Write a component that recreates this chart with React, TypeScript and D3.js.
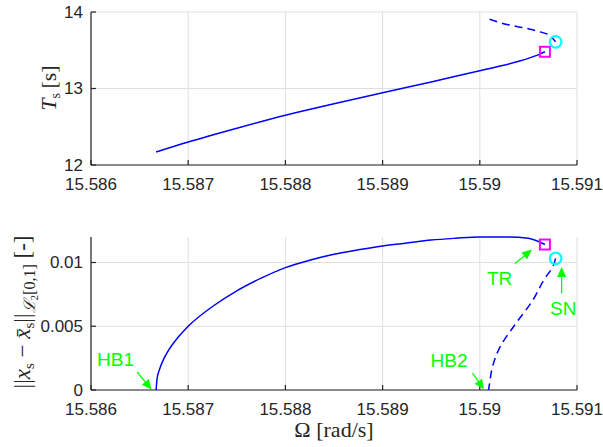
import React from "react";
import * as d3 from "d3";

// ---------- data ----------
const OMEGA_TICKS = [15.586, 15.587, 15.588, 15.589, 15.59, 15.591];
const T_TICKS = [12, 13, 14];
const AMP_TICKS = [0, 0.005, 0.01];

// Period of the periodic solution (top panel)
const T_STABLE_OMEGA = [15.58667, 15.587, 15.5875, 15.588, 15.5885, 15.589, 15.5895, 15.59, 15.5902, 15.5904, 15.5906, 15.59067];
const T_STABLE = [12.17, 12.3, 12.48, 12.65, 12.8, 12.945, 13.085, 13.233, 13.29, 13.355, 13.44, 13.48];
const T_UNSTABLE_OMEGA = [15.59078, 15.59072, 15.59062, 15.5905, 15.59038, 15.59021, 15.5901];
const T_UNSTABLE = [13.61, 13.69, 13.74, 13.78, 13.81, 13.86, 13.905];

// Amplitude norm (bottom panel)
const A_STABLE_OMEGA = [15.58667, 15.58668, 15.5867, 15.58675, 15.5868, 15.5869, 15.587, 15.58725, 15.5875, 15.58775, 15.588, 15.58825, 15.5885, 15.58875, 15.589, 15.58925, 15.5895, 15.58975, 15.59, 15.5903, 15.5905, 15.59067];
const A_STABLE = [0, 0.0009, 0.0015, 0.00246, 0.00314, 0.00417, 0.005, 0.00655, 0.00778, 0.00877, 0.0096, 0.01018, 0.01065, 0.011, 0.0113, 0.01153, 0.01176, 0.0119, 0.012, 0.012, 0.0119, 0.01141];
const A_UNSTABLE_OMEGA = [15.59078, 15.59074, 15.59068, 15.59055, 15.59035, 15.59021, 15.59013, 15.5901, 15.59009];
const A_UNSTABLE = [0.01032, 0.0095, 0.00888, 0.0071, 0.005, 0.0034, 0.0018, 0.0005, 0];

// Bifurcation points
const TR_POINT = { omega: 15.59067, T: 13.48, amp: 0.01141 };
const SN_POINT = { omega: 15.59078, T: 13.61, amp: 0.01032 };
const HB1_POINT = { omega: 15.58667, amp: 0 };
const HB2_POINT = { omega: 15.59009, amp: 0 };

// ---------- layout ----------
const W = 603;
const H = 447;
const X0 = 91;
const X1 = 577;
const TOP = { y0: 12, y1: 165 };
const BOT = { y0: 237, y1: 390 };

const AXIS_COLOR = "#262626";
const GRID_COLOR = "#dfdfdf";
const LINE_COLOR = "#0000ff";
const GREEN = "#00ff00";
const TICK_FONT = "Liberation Sans, Arial, sans-serif";
const SERIF = "Liberation Serif, Times New Roman, serif";

const fmt = (v: number) => String(+v.toFixed(4));

function Arrow({ x1, y1, x2, y2 }: { x1: number; y1: number; x2: number; y2: number }) {
  const dx = x2 - x1;
  const dy = y2 - y1;
  const len = Math.hypot(dx, dy);
  const ux = dx / len;
  const uy = dy / len;
  const hl = 10;
  const hw = 4.5;
  const bx = x2 - ux * hl;
  const by = y2 - uy * hl;
  const pts = [
    [x2, y2],
    [bx - uy * hw, by + ux * hw],
    [bx + uy * hw, by - ux * hw],
  ];
  return (
    <g>
      <line x1={x1} y1={y1} x2={bx} y2={by} stroke={GREEN} strokeWidth={1.3} />
      <polygon points={pts.map((p) => p.join(",")).join(" ")} fill={GREEN} />
    </g>
  );
}

export default function App() {
  const x = d3.scaleLinear().domain([15.586, 15.591]).range([X0, X1]);
  const yT = d3.scaleLinear().domain([12, 14]).range([TOP.y1, TOP.y0]);
  const yA = d3.scaleLinear().domain([0, 0.012]).range([BOT.y1, BOT.y0]);

  const zip = (a: number[], b: number[]) => a.map((v, i) => [v, b[i]] as [number, number]);
  const byX = (pts: [number, number][]) => pts.slice().sort((p, q) => p[0] - q[0]);

  const lineTx = d3
    .line<[number, number]>()
    .x((d) => x(d[0]))
    .y((d) => yT(d[1]))
    .curve(d3.curveMonotoneX);
  const lineAx = d3
    .line<[number, number]>()
    .x((d) => x(d[0]))
    .y((d) => yA(d[1]))
    .curve(d3.curveMonotoneX);
  const lineAy = d3
    .line<[number, number]>()
    .x((d) => x(d[0]))
    .y((d) => yA(d[1]))
    .curve(d3.curveMonotoneY);

  const panel = (y: d3.ScaleLinear<number, number>, yTicks: number[], y0: number, y1: number) => (
    <g>
      {OMEGA_TICKS.map((t) => (
        <line key={"gx" + t} x1={x(t)} x2={x(t)} y1={y0} y2={y1} stroke={GRID_COLOR} strokeWidth={1} />
      ))}
      {yTicks.map((t) => (
        <line key={"gy" + t} x1={X0} x2={X1} y1={y(t)} y2={y(t)} stroke={GRID_COLOR} strokeWidth={1} />
      ))}
      <line x1={X0} x2={X0} y1={y0} y2={y1} stroke={AXIS_COLOR} strokeWidth={1.2} />
      <line x1={X0} x2={X1} y1={y1} y2={y1} stroke={AXIS_COLOR} strokeWidth={1.2} />
      {OMEGA_TICKS.map((t) => (
        <g key={"tx" + t}>
          <line x1={x(t)} x2={x(t)} y1={y1} y2={y1 - 5} stroke={AXIS_COLOR} strokeWidth={1.2} />
          <text x={x(t)} y={y1 + 25} textAnchor="middle" fontFamily={TICK_FONT} fontSize={17} fill={AXIS_COLOR}>
            {fmt(t)}
          </text>
        </g>
      ))}
      {yTicks.map((t) => (
        <g key={"ty" + t}>
          <line x1={X0} x2={X0 + 5} y1={y(t)} y2={y(t)} stroke={AXIS_COLOR} strokeWidth={1.2} />
          <text x={X0 - 8} y={y(t)} dy="0.35em" textAnchor="end" fontFamily={TICK_FONT} fontSize={17} fill={AXIS_COLOR}>
            {fmt(t)}
          </text>
        </g>
      ))}
    </g>
  );

  const trT = { x: x(TR_POINT.omega), y: yT(TR_POINT.T) };
  const snT = { x: x(SN_POINT.omega), y: yT(SN_POINT.T) };
  const trA = { x: x(TR_POINT.omega), y: yA(TR_POINT.amp) };
  const snA = { x: x(SN_POINT.omega), y: yA(SN_POINT.amp) };
  const hb1 = { x: x(HB1_POINT.omega), y: yA(HB1_POINT.amp) };
  const hb2 = { x: x(HB2_POINT.omega), y: yA(HB2_POINT.amp) };

  const square = (p: { x: number; y: number }) => (
    <rect x={p.x - 5} y={p.y - 5} width={10} height={10} fill="none" stroke="#ff00ff" strokeWidth={2} />
  );
  const circle = (p: { x: number; y: number }) => (
    <circle cx={p.x} cy={p.y} r={5.8} fill="none" stroke="#00ffff" strokeWidth={2.2} />
  );

  const labelStyle = { fontFamily: TICK_FONT, fontSize: 19, fill: GREEN } as const;

  return (
    <svg width={W} height={H} style={{ position: "absolute", left: 0, top: 0, background: "#fff" }}>
      <rect width={W} height={H} fill="#fff" />
      {panel(yT, T_TICKS, TOP.y0, TOP.y1)}
      {panel(yA, AMP_TICKS, BOT.y0, BOT.y1)}

      {/* top curves */}
      <path d={lineTx(byX(zip(T_STABLE_OMEGA, T_STABLE))) || ""} fill="none" stroke={LINE_COLOR} strokeWidth={1.5} />
      <path d={lineTx(byX(zip(T_UNSTABLE_OMEGA, T_UNSTABLE))) || ""} fill="none" stroke={LINE_COLOR} strokeWidth={1.5} strokeDasharray="8,5" />
      {square(trT)}
      {circle(snT)}

      {/* bottom curves */}
      <path d={lineAx(byX(zip(A_STABLE_OMEGA, A_STABLE))) || ""} fill="none" stroke={LINE_COLOR} strokeWidth={1.5} />
      <path d={lineAy(zip(A_UNSTABLE_OMEGA, A_UNSTABLE)) || ""} fill="none" stroke={LINE_COLOR} strokeWidth={1.5} strokeDasharray="8,5" />
      {square(trA)}
      {circle(snA)}

      {/* annotations */}
      <Arrow x1={hb1.x - 19} y1={hb1.y - 18} x2={hb1.x - 4.5} y2={hb1.y - 0.5} />
      <text x={hb1.x - 59} y={hb1.y - 24} {...labelStyle}>HB1</text>
      <Arrow x1={hb2.x - 16} y1={hb2.y - 17} x2={hb2.x - 4.5} y2={hb2.y - 0.5} />
      <text x={hb2.x - 58} y={hb2.y - 23} {...labelStyle}>HB2</text>
      <Arrow x1={trA.x - 30} y1={trA.y + 19} x2={trA.x - 13} y2={trA.y + 5} />
      <text x={trA.x - 58} y={trA.y + 40.5} {...labelStyle}>TR</text>
      <Arrow x1={snA.x + 6} y1={snA.y + 35} x2={snA.x + 6} y2={snA.y + 8.5} />
      <text x={snA.x + 7.6} y={snA.y + 56.5} textAnchor="middle" {...labelStyle}>SN</text>

      {/* axis labels */}
      <text transform={`translate(56, 88) rotate(-90)`} textAnchor="middle" fontFamily={SERIF} fontSize={22} fill={AXIS_COLOR}>
        <tspan fontStyle="italic">T</tspan>
        <tspan fontSize={14} dy={4}>s</tspan>
        <tspan dy={-4}>{"\u2009[s]"}</tspan>
      </text>

      <text transform={`translate(30, 312) rotate(-90)`} textAnchor="middle" fontFamily={SERIF} fontSize={23} fill={AXIS_COLOR}>
        <tspan>||</tspan>
        <tspan fontStyle="italic">x</tspan>
        <tspan fontSize={15} dy={4}>s</tspan>
        <tspan dy={-4}>{" − "}</tspan>
        <tspan fontStyle="italic">x̄</tspan>
        <tspan fontSize={15} dy={4}>s</tspan>
        <tspan dy={-4}>||</tspan>
        <tspan fontSize={16} fontStyle="italic" dy={5}>ℒ</tspan>
        <tspan fontSize={11} dy={3}>2</tspan>
        <tspan fontSize={16} dy={-3}>[0,1]</tspan>
        <tspan dy={-5}>{"  [-]"}</tspan>
      </text>

      <text x={(X0 + X1) / 2} y={437} textAnchor="middle" fontFamily={SERIF} fontSize={22} fill={AXIS_COLOR}>
        Ω [rad/s]
      </text>
    </svg>
  );
}
